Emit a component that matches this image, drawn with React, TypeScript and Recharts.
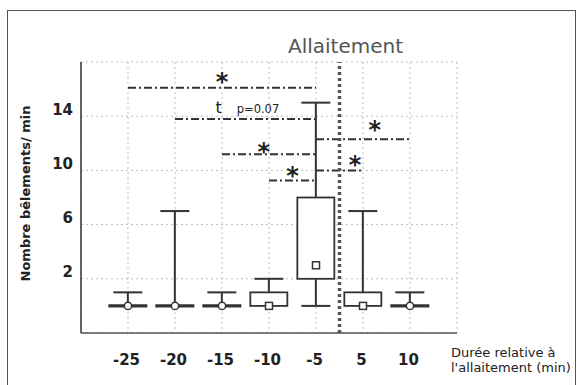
import React from "react";
import {
  ComposedChart,
  Bar,
  Scatter,
  XAxis,
  YAxis,
  CartesianGrid,
  ReferenceLine,
} from "recharts";

const categories = ["-25", "-20", "-15", "-10", "-5", "5", "10"];
const minValues = [0, 0, 0, 0, 0, 0, 0];
const q1Values = [0, 0, 0, 0, 2, 0, 0];
const q3Values = [0, 0, 0, 1, 8, 1, 0];
const maxValues = [1, 7, 1, 2, 15, 7, 1];
const meanValues = [0, 0, 0, 0, 3, 0, 0];
const yTicks = [2, 6, 10, 14];
const xTicks = [0, 1, 2, 3, 4, 5, 6, 7];

// significance brackets (category index -> category index, at height y)
const sigLines = [
  { from: 0, to: 4, y: 16.1 },
  { from: 1, to: 4, y: 13.8 },
  { from: 2, to: 4, y: 11.2 },
  { from: 3, to: 4, y: 9.25 },
  { from: 4, to: 6, y: 12.3 },
  { from: 4, to: 5, y: 10 },
];
const sigMarks = [
  { idx: 2, y: 17, text: "*" },
  { idx: 2.89, y: 11.8, text: "*" },
  { idx: 3.5, y: 10, text: "*" },
  { idx: 5.25, y: 13.4, text: "*" },
  { idx: 4.83, y: 10.85, text: "*" },
];
const trendNotes = [{ idx: 1.93, y: 14.24, text: "t", detail: "p=0.07" }];

const FONT = "DejaVu Sans, sans-serif";
const INK = "#333";
const BOX_W = 37;

const data = categories.map((label, i) => ({
  idx: i,
  label,
  base: minValues[i],
  lowW: q1Values[i] - minValues[i],
  box: q3Values[i] - q1Values[i],
  upW: maxValues[i] - q3Values[i],
  mean: meanValues[i],
}));

const LowerWhisker = (p: any) => {
  const { x, y, width, height } = p;
  if (!height) return null;
  const cx = x + width / 2;
  const top = Math.min(y, y + height);
  const bot = Math.max(y, y + height);
  return (
    <g>
      <line x1={cx} x2={cx} y1={top} y2={bot} stroke={INK} strokeWidth={2} />
      <line x1={cx - 14.5} x2={cx + 14.5} y1={bot} y2={bot} stroke={INK} strokeWidth={2} />
    </g>
  );
};

const UpperWhisker = (p: any) => {
  const { x, y, width, height } = p;
  if (!height) return null;
  const cx = x + width / 2;
  const top = Math.min(y, y + height);
  const bot = Math.max(y, y + height);
  return (
    <g>
      <line x1={cx} x2={cx} y1={top} y2={bot} stroke={INK} strokeWidth={2} />
      <line x1={cx - 14.5} x2={cx + 14.5} y1={top} y2={top} stroke={INK} strokeWidth={2} />
    </g>
  );
};

const BoxShape = (p: any) => {
  const { x, y, width, height } = p;
  const cx = x + width / 2;
  if (Math.abs(height || 0) < 0.5) {
    return (
      <line x1={cx - 19.5} x2={cx + 19.5} y1={y} y2={y} stroke={INK} strokeWidth={3.2} />
    );
  }
  const top = Math.min(y, y + height);
  return (
    <rect
      x={cx - BOX_W / 2}
      y={top}
      width={BOX_W}
      height={Math.abs(height)}
      fill="#fff"
      stroke={INK}
      strokeWidth={1.8}
    />
  );
};

const MeanMarker = (p: any) => {
  const { cx, cy, payload } = p;
  if (payload && payload.box === 0) {
    return <circle cx={cx} cy={cy} r={3.6} fill="#fff" stroke={INK} strokeWidth={1.5} />;
  }
  return <rect x={cx - 3.5} y={cy - 3.5} width={7} height={7} fill="#fff" stroke={INK} strokeWidth={1.5} />;
};

const StarMark = (p: any) => {
  const { cx, cy, payload } = p;
  return (
    <text x={cx} y={cy + 14} textAnchor="middle" fontSize={24} fontWeight="bold" fontFamily={FONT} fill="#222">
      {payload.text}
    </text>
  );
};

const TrendMark = (p: any) => {
  const { cx, cy, payload } = p;
  return (
    <g>
      <text x={cx} y={cy} textAnchor="middle" fontSize={16} fontFamily={FONT} fill="#222">
        {payload.text}
      </text>
      <text x={cx + 18} y={cy} fontSize={11.5} fontFamily={FONT} fill="#222">
        {payload.detail}
      </text>
    </g>
  );
};

const XTick = (p: any) => {
  const { x, y, payload } = p;
  const label = categories[payload.value] ?? "";
  return (
    <text x={x - 1.5} y={y + 30} textAnchor="middle" fontSize={15} fontWeight="bold" fontFamily={FONT} fill="#222">
      {label}
    </text>
  );
};

const YTick = (p: any) => {
  const { x, y, payload } = p;
  return (
    <text x={x} y={y - 7} dy="0.36em" textAnchor="end" fontSize={15} fontWeight="bold" fontFamily={FONT} fill="#222">
      {payload.value}
    </text>
  );
};

export default function App() {
  return (
    <div style={{ position: "absolute", left: 0, top: 0, width: 577, height: 385, overflow: "hidden", background: "#fff" }}>
      <div style={{ position: "absolute", left: 7, top: 10, width: 567, height: 400, border: "1.5px solid #555" }} />
      <div style={{ position: "absolute", left: 0, top: 0 }}>
        <ComposedChart
          width={577}
          height={385}
          data={data}
          margin={{ top: 62, right: 120, bottom: 22, left: 21 }}
        >
          <CartesianGrid stroke="#bdbdbd" strokeDasharray="2 3" />
          <XAxis
            dataKey="idx"
            type="number"
            domain={[-1, 7]}
            ticks={xTicks}
            allowDataOverflow
            height={30}
            tickLine={false}
            tickSize={0}
            axisLine={{ stroke: "#555", strokeWidth: 1.5 }}
            tick={<XTick />}
            label={(props: any) => {
              const vb = props.viewBox || { x: 81, y: 333, width: 376 };
              const tx = vb.x + vb.width - 6;
              return (
                <text fontSize={13} fontFamily={FONT} fill="#222">
                  <tspan x={tx} y={vb.y + 24}>Durée relative à</tspan>
                  <tspan x={tx} y={vb.y + 39}>l'allaitement (min)</tspan>
                </text>
              );
            }}
          />
          <YAxis
            type="number"
            domain={[-2, 18]}
            ticks={yTicks}
            allowDataOverflow
            width={60}
            tickLine={false}
            tickSize={0}
            tickMargin={8}
            axisLine={{ stroke: INK, strokeWidth: 1.5 }}
            tick={<YTick />}
            label={(props: any) => {
              const vb = props.viewBox || { x: 21, y: 62, height: 271 };
              const tx = vb.x + 4;
              const ty = vb.y + vb.height / 2 - 4;
              return (
                <text
                  x={tx}
                  y={ty}
                  transform={`rotate(-90 ${tx} ${ty})`}
                  textAnchor="middle"
                  dominantBaseline="central"
                  fontSize={13}
                  fontWeight="bold"
                  fontFamily={FONT}
                  fill="#222"
                >
                  Nombre bêlements/ min
                </text>
              );
            }}
          />
          <Bar dataKey="base" stackId="box" barSize={BOX_W} isAnimationActive={false} shape={() => null} />
          <Bar dataKey="lowW" stackId="box" barSize={BOX_W} isAnimationActive={false} shape={<LowerWhisker />} />
          <Bar dataKey="box" stackId="box" barSize={BOX_W} isAnimationActive={false} shape={<BoxShape />} />
          <Bar dataKey="upW" stackId="box" barSize={BOX_W} isAnimationActive={false} shape={<UpperWhisker />} />
          {sigLines.map((s, i) => (
            <ReferenceLine
              key={`sig-${i}`}
              segment={[
                { x: s.from, y: s.y },
                { x: s.to, y: s.y },
              ]}
              stroke="#333"
              strokeWidth={2}
              strokeDasharray="8 3 2 3"
            />
          ))}
          <ReferenceLine
            x={4.5}
            stroke="#555"
            strokeWidth={3.5}
            strokeDasharray="3 3"
            label={(props: any) => {
              const vb = props.viewBox || { x: 339, y: 62 };
              return (
                <text x={vb.x + 6} y={vb.y - 9} textAnchor="middle" fontSize={20} fontFamily={FONT} fill="#555">
                  Allaitement
                </text>
              );
            }}
          />
          <Scatter dataKey="mean" isAnimationActive={false} shape={<MeanMarker />} />
          <Scatter data={sigMarks} dataKey="y" isAnimationActive={false} shape={<StarMark />} />
          <Scatter data={trendNotes} dataKey="y" isAnimationActive={false} shape={<TrendMark />} />
        </ComposedChart>
      </div>
    </div>
  );
}
